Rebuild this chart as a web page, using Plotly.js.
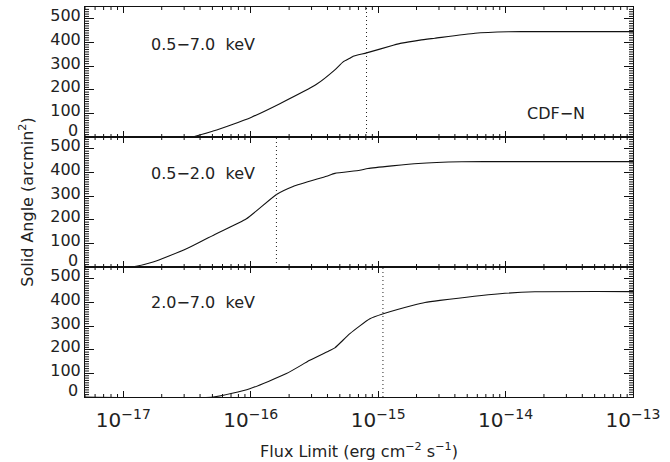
<!DOCTYPE html>
<html>
<head>
<meta charset="utf-8">
<script src="https://cdn.plot.ly/plotly-3.0.1.min.js"></script>
<style>html,body{margin:0;padding:0;background:#fff;}#chart{width:670px;height:462px;}</style>
</head>
<body>
<div id="chart"></div>
<script>
// log10 of flux limit (erg cm^-2 s^-1) and solid angle (arcmin^2)
const logFluxFull = [-17.301, -16.466, -16.296, -16.15, -15.994, -15.772, -15.484, -15.34, -15.275, -15.222, -15.196, -15.091, -14.882, -14.816, -14.672, -14.555, -14.24, -13.979, -13.77, -13.0];
const areaFull    = [0, 0, 25, 52, 84, 141, 223, 284, 318, 333, 342, 356, 388, 397, 410, 418, 439, 445, 446, 446];

const logFluxSoft = [-17.301, -16.937, -16.767, -16.505, -16.27, -16.034, -15.798, -15.668, -15.405, -15.34, -15.144, -15.08, -14.685, -14.345, -14.0, -13.0];
const areaSoft    = [0, 0, 21, 77, 141, 204, 307, 341, 384, 396, 409, 417, 438, 445, 446, 446];

const logFluxHard = [-17.301, -16.296, -16.008, -15.72, -15.537, -15.379, -15.34, -15.222, -15.065, -14.96, -14.725, -14.633, -14.515, -14.044, -13.77, -13.0];
const areaHard    = [0, 0, 35, 99, 155, 197, 208, 268, 331, 352, 388, 400, 409, 437, 445, 446];

// flux limits (vertical dotted lines)
const limitFull = 8.1e-16;
const limitSoft = 1.59e-16;
const limitHard = 1.09e-15;

const bandLabels = ["0.5\u22127.0  keV", "0.5\u22122.0  keV", "2.0\u22127.0  keV"];
const fieldLabel = "CDF\u2212N";
const zeroLabel = "0";

// minor tick definitions
const decades = [1e-18, 1e-17, 1e-16, 1e-15, 1e-14];
const minorMultipliers = [2, 3, 4, 5, 6, 7, 8, 9];
const yMinorStep = 10;
const yMax = 550;

const toFlux = a => a.map(v => Math.pow(10, v));
const lineStyle = {color: '#111', width: 1.1, shape: 'spline', smoothing: 0.5};
const dotStyle = {color: '#222', width: 1, dash: '1px,3px'};
const xRange = [Math.log10(5e-18), -13];

// minor ticks built as short line segments from the tick arrays
const plotW = 670 - 85 - 37, panelH = (462 - 7 - 65) / 3;
const yTickDec = 4 / plotW * (xRange[1] - xRange[0]);   // 4 px in decades
const xTickLen = 3 / panelH * yMax;                       // 3 px in arcmin^2
function minorTickTrace(xa, ya) {
  const xs = [], ys = [];
  const xLo = Math.pow(10, xRange[0]), xHi = Math.pow(10, xRange[1]);
  const xLoIn = Math.pow(10, xRange[0] + yTickDec), xHiIn = Math.pow(10, xRange[1] - yTickDec);
  for (let v = yMinorStep; v < yMax; v += yMinorStep) {
    if (v % 100 === 0) continue;
    xs.push(xLo, xLoIn, null, xHiIn, xHi, null);
    ys.push(v, v, null, v, v, null);
  }
  decades.forEach(d => minorMultipliers.forEach(m => {
    const v = d * m;
    if (v < xLo || v >= xHi) return;
    xs.push(v, v, null, v, v, null);
    ys.push(0, xTickLen, null, yMax - xTickLen, yMax, null);
  }));
  return {x: xs, y: ys, xaxis: xa, yaxis: ya, mode: 'lines', line: {color: '#111', width: 1}, connectgaps: false, hoverinfo: 'skip'};
}

const traces = [
  {x: toFlux(logFluxFull), y: areaFull, xaxis: 'x', yaxis: 'y', mode: 'lines', line: lineStyle},
  {x: [limitFull, limitFull], y: [0, yMax], xaxis: 'x', yaxis: 'y', mode: 'lines', line: dotStyle},
  {x: toFlux(logFluxSoft), y: areaSoft, xaxis: 'x2', yaxis: 'y2', mode: 'lines', line: lineStyle},
  {x: [limitSoft, limitSoft], y: [0, yMax], xaxis: 'x2', yaxis: 'y2', mode: 'lines', line: dotStyle},
  {x: toFlux(logFluxHard), y: areaHard, xaxis: 'x3', yaxis: 'y3', mode: 'lines', line: lineStyle},
  {x: [limitHard, limitHard], y: [0, yMax], xaxis: 'x3', yaxis: 'y3', mode: 'lines', line: dotStyle},
  minorTickTrace('x', 'y'), minorTickTrace('x2', 'y2'), minorTickTrace('x3', 'y3')
];

const tickFont = {family: 'DejaVu Sans', size: 16, color: '#222'};
function xAx(anchor, labels) {
  return {
    type: 'log', range: xRange, anchor: anchor,
    showline: true, linecolor: '#111', linewidth: 1, mirror: 'ticks',
    ticks: 'inside', ticklen: 6, tickwidth: 1, tickcolor: '#111',
    tickmode: 'linear', tick0: 0, dtick: 1, exponentformat: 'power',
    showticklabels: labels, ticklabelstandoff: 6,
    showgrid: false, zeroline: false,
    tickfont: tickFont
  };
}
function yAx(anchor, domain) {
  return {
    range: [0, yMax], domain: domain, anchor: anchor,
    showline: true, linecolor: '#111', linewidth: 1, mirror: 'ticks',
    ticks: 'inside', ticklen: 9, tickwidth: 1, tickcolor: '#111',
    tickmode: 'linear', tick0: 0, dtick: 100,
    labelalias: {'0': ' '}, ticklabelshift: -3,
    showgrid: false, zeroline: false,
    tickfont: tickFont
  };
}

const xa3 = xAx('y3', true);
xa3.title = {text: 'Flux Limit (erg cm<sup>\u22122</sup> s<sup>\u22121</sup>)', font: tickFont, standoff: 14};
const ya2 = yAx('x2', [1/3, 2/3]);
ya2.title = {text: 'Solid Angle (arcmin<sup>2</sup>)', font: tickFont, standoff: 12};

const zeroAnn = yref => ({text: zeroLabel, xref: 'paper', yref: yref, x: 0, y: 0, xanchor: 'right', yanchor: 'middle', xshift: -5, yshift: 7, showarrow: false, font: tickFont});

const layout = {
  width: 670, height: 462,
  margin: {l: 85, r: 37, t: 7, b: 65},
  paper_bgcolor: '#fff', plot_bgcolor: '#fff',
  showlegend: false,
  xaxis: xAx('y', false), xaxis2: xAx('y2', false), xaxis3: xa3,
  yaxis: yAx('x', [2/3, 1]), yaxis2: ya2, yaxis3: yAx('x3', [0, 1/3]),
  annotations: [
    {text: bandLabels[0], xref: 'paper', yref: 'paper', x: 0.117, y: 0.905, xanchor: 'left', yanchor: 'middle', showarrow: false, font: tickFont},
    {text: bandLabels[1], xref: 'paper', yref: 'paper', x: 0.117, y: 0.574, xanchor: 'left', yanchor: 'middle', showarrow: false, font: tickFont},
    {text: bandLabels[2], xref: 'paper', yref: 'paper', x: 0.117, y: 0.242, xanchor: 'left', yanchor: 'middle', showarrow: false, font: tickFont},
    {text: fieldLabel, xref: 'paper', yref: 'paper', x: 0.803, y: 0.727, xanchor: 'left', yanchor: 'middle', showarrow: false, font: tickFont},
    zeroAnn('y'), zeroAnn('y2'), zeroAnn('y3')
  ]
};

Plotly.newPlot('chart', traces, layout, {staticPlot: true, displayModeBar: false});
</script>
</body>
</html>
